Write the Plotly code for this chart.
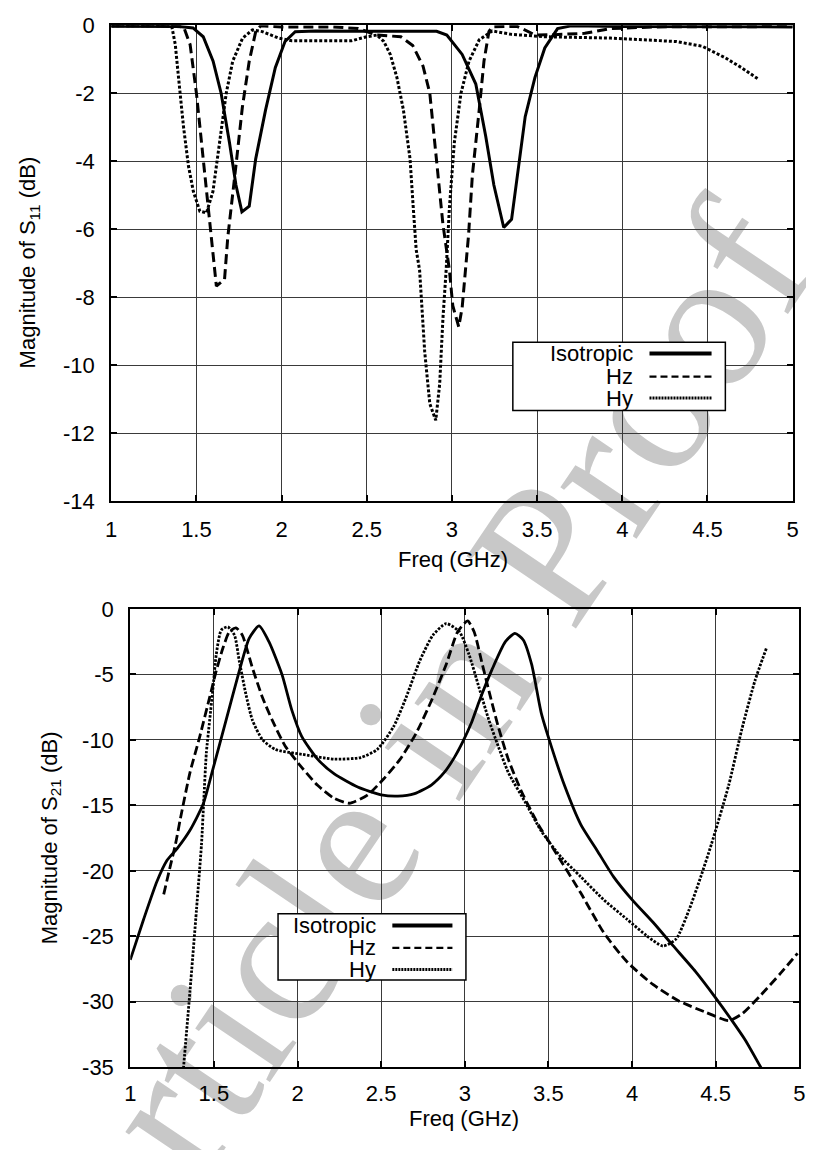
import plotly.graph_objects as go

W, H = 814, 1150
FONT = "Liberation Sans, Arial, Helvetica, sans-serif"

# ---------------- data: S11 (top) ----------------
series_names = ["Isotropic", "Hz", "Hy"]

s11_iso_f = [1.0, 1.2, 1.4, 1.48, 1.54, 1.598, 1.645, 1.694, 1.732, 1.767, 1.81, 1.848, 1.906, 1.963,
             2.02, 2.08, 2.2, 2.5, 2.8, 2.91, 2.97, 3.06, 3.14, 3.198, 3.246, 3.304, 3.35, 3.39, 3.43,
             3.487, 3.545, 3.62, 3.70, 4.0, 4.5, 5.0]
s11_iso_db = [-0.03, -0.03, -0.04, -0.08, -0.34, -1.06, -2.0, -3.45, -4.7, -5.49, -5.32, -3.93, -2.49, -1.25,
              -0.48, -0.19, -0.17, -0.18, -0.17, -0.18, -0.29, -0.86, -1.73, -3.26, -4.7, -5.95, -5.71, -4.22, -2.69,
              -1.54, -0.67, -0.1, -0.02, -0.04, -0.05, -0.05]

s11_hz_f = [1.0, 1.3, 1.425, 1.463, 1.50, 1.54, 1.568, 1.597, 1.617, 1.665, 1.684, 1.732, 1.77, 1.81,
            1.848, 1.877, 2.0, 2.3, 2.45, 2.56, 2.70, 2.77, 2.83, 2.87, 2.908, 2.947, 2.985, 3.005, 3.04,
            3.06, 3.097, 3.12, 3.16, 3.188, 3.217, 3.236, 3.38, 3.45, 3.49, 3.6, 3.78, 3.93, 4.2, 5.0]
s11_hz_db = [-0.02, -0.02, -0.05, -0.57, -2.0, -3.93, -5.37, -6.8, -7.67, -7.48, -6.24, -4.13, -2.4, -1.06,
             -0.19, -0.02, -0.05, -0.05, -0.1, -0.29, -0.34, -0.6, -1.2, -2.0, -3.93, -5.85, -7.2, -8.25, -8.87,
             -8.3, -6.2, -4.41, -2.49, -1.06, -0.19, -0.05, -0.03, -0.2, -0.29, -0.28, -0.24, -0.1, -0.05, -0.04]

s11_hy_f = [1.0, 1.3, 1.356, 1.376, 1.395, 1.424, 1.453, 1.482, 1.52, 1.559, 1.597, 1.636, 1.675, 1.713,
            1.771, 1.829, 1.887, 1.983, 2.06, 2.41, 2.50, 2.56, 2.60, 2.638, 2.677, 2.715, 2.754, 2.773, 2.79,
            2.81, 2.84, 2.87, 2.905, 2.928, 2.947, 2.966, 2.985, 3.014, 3.053, 3.10, 3.16, 3.236, 3.35,
            3.545, 3.93, 4.12, 4.316, 4.47, 4.605, 4.70, 4.797]
s11_hy_db = [-0.02, -0.02, -0.05, -0.57, -1.54, -2.98, -4.13, -4.89, -5.47, -5.52, -4.89, -3.45, -2.0, -1.06,
             -0.38, -0.14, -0.19, -0.38, -0.46, -0.46, -0.34, -0.29, -0.48, -0.86, -1.54, -2.49, -3.93, -5.37, -6.6,
             -7.2, -9.6, -11.13, -11.62, -10.55, -8.63, -7.2, -5.37, -3.45, -2.0, -1.06, -0.43, -0.17, -0.27,
             -0.34, -0.38, -0.43, -0.48, -0.62, -0.96, -1.25, -1.58]

# ---------------- data: S21 (bottom) ----------------
s21_iso_f = [1.0, 1.08, 1.16, 1.22, 1.28, 1.357, 1.436, 1.495, 1.573, 1.652, 1.711, 1.77, 1.829, 1.907,
             1.966, 2.025, 2.12, 2.22, 2.36, 2.5, 2.6, 2.7, 2.8, 2.88, 2.94, 2.99, 3.04, 3.085, 3.164, 3.243,
             3.30, 3.35, 3.40, 3.458, 3.517, 3.596, 3.694, 3.792, 3.89, 4.0, 4.127, 4.244, 4.38, 4.5,
             4.598, 4.676, 4.774]
s21_iso_db = [-26.8, -23.7, -20.8, -19.2, -18.3, -16.9, -14.9, -12.2, -8.5, -4.74, -2.25, -1.3, -2.5, -5.0,
              -7.73, -9.73, -11.47, -12.6, -13.6, -14.2, -14.3, -14.1, -13.45, -12.45, -11.3, -10.1, -8.7,
              -7.1, -4.6, -2.5, -1.87, -2.37, -4.24, -7.98, -10.48, -13.47, -16.47, -18.46, -20.46, -22.2,
              -23.95, -25.7, -27.7, -29.7, -31.44, -32.9, -35.1]

s21_hz_f = [1.2, 1.24, 1.27, 1.3, 1.357, 1.416, 1.475, 1.514, 1.554, 1.593, 1.632, 1.67, 1.73, 1.79,
            1.848, 1.927, 2.025, 2.12, 2.22, 2.31, 2.418, 2.516, 2.614, 2.71, 2.81, 2.889, 2.958, 3.017,
            3.056, 3.105, 3.154, 3.2, 3.26, 3.34, 3.44, 3.537, 3.694, 3.83, 3.97, 4.127, 4.28, 4.44,
            4.578, 4.656, 4.774, 4.89, 4.99]
s21_hz_db = [-21.8, -19.6, -18.0, -16.0, -12.5, -9.73, -6.74, -4.74, -2.99, -1.74, -1.45, -2.0, -4.49, -6.74,
             -8.48, -10.48, -12.1, -13.47, -14.47, -14.84, -14.22, -12.97, -11.47, -9.48, -6.74, -4.24, -1.74,
             -0.92, -1.74, -4.24, -6.74, -8.98, -11.47, -13.97, -16.47, -18.46, -21.7, -24.7, -26.95, -28.7,
             -29.94, -30.8, -31.44, -30.94, -29.44, -27.8, -26.3]

s21_hy_f = [1.318, 1.357, 1.396, 1.426, 1.44, 1.455, 1.475, 1.495, 1.514, 1.544, 1.583, 1.623, 1.652, 1.691,
            1.73, 1.79, 1.868, 2.025, 2.22, 2.378, 2.477, 2.575, 2.65, 2.73, 2.81, 2.889, 2.968, 3.026,
            3.085, 3.144, 3.2, 3.26, 3.36, 3.458, 3.576, 3.694, 3.83, 3.97, 4.087, 4.185, 4.264, 4.342,
            4.41, 4.475, 4.578, 4.656, 4.735, 4.804]
s21_hy_db = [-35.1, -29.2, -22.96, -17.96, -14.5, -10.98, -8.48, -5.99, -3.5, -1.62, -1.37, -2.0, -3.99, -6.49,
             -8.48, -9.98, -10.73, -11.1, -11.47, -11.35, -10.73, -8.98, -6.74, -3.99, -2.0, -1.12, -1.74, -3.5,
             -5.99, -8.48, -10.48, -12.48, -14.72, -16.97, -18.96, -20.46, -22.2, -23.7, -24.95, -25.75, -25.2,
             -22.96, -20.5, -17.96, -13.47, -9.23, -5.49, -2.99]

x_ticks = [1, 1.5, 2, 2.5, 3, 3.5, 4, 4.5, 5]
x_tick_text = ["1", "1.5", "2", "2.5", "3", "3.5", "4", "4.5", "5"]
y11_ticks = [0, -2, -4, -6, -8, -10, -12, -14]
y11_tick_text = ["0", "-2", "-4", "-6", "-8", "-10", "-12", "-14"]
y21_ticks = [0, -5, -10, -15, -20, -25, -30, -35]
y21_tick_text = ["0", "-5", "-10", "-15", "-20", "-25", "-30", "-35"]

# ---------------- helpers (screen pixels -> paper; page body has an 8px margin) ----------------
OFF = 8

def px(x):
    return (x - OFF) / W

def py(y):
    return 1 - (y - OFF) / H

styles_top = [dict(color="black", width=3),
              dict(color="black", width=3, dash="10px,5px"),
              dict(color="black", width=3, dash="3px,2px")]
styles_bot = [dict(color="black", width=2.8),
              dict(color="black", width=2.8, dash="9px,4px"),
              dict(color="black", width=2.8, dash="2.5px,1.5px")]

fig = go.Figure()
for (f, d), st in zip([(s11_iso_f, s11_iso_db), (s11_hz_f, s11_hz_db), (s11_hy_f, s11_hy_db)], styles_top):
    fig.add_trace(go.Scatter(x=f, y=d, mode="lines", line=st, xaxis="x", yaxis="y", hoverinfo="skip"))
for (f, d), st in zip([(s21_iso_f, s21_iso_db), (s21_hz_f, s21_hz_db), (s21_hy_f, s21_hy_db)], styles_bot):
    fig.add_trace(go.Scatter(x=f, y=d, mode="lines", line=dict(st, shape="spline", smoothing=0.6),
                             xaxis="x2", yaxis="y2", hoverinfo="skip"))

FS = 22
axis_common = dict(showgrid=True, gridcolor="#3a3a3a", gridwidth=1, showline=True, linecolor="black",
                   linewidth=2, mirror="ticks", ticks="inside", ticklen=6, tickcolor="black", tickwidth=1.5,
                   zeroline=False, tickfont=dict(family=FONT, size=FS, color="black"))

fig.update_layout(
    width=W, height=H, margin=dict(l=0, r=0, t=0, b=0),
    paper_bgcolor="white", plot_bgcolor="rgba(0,0,0,0)", showlegend=False,
    xaxis=dict(axis_common, domain=[px(106.7), px(798.3)], range=[1, 5], tickvals=x_ticks,
               ticktext=x_tick_text, anchor="y", ticklabelstandoff=7),
    yaxis=dict(axis_common, domain=[py(500), py(13.3)], range=[-14, 0], tickvals=y11_ticks,
               ticktext=y11_tick_text, anchor="x", ticklabelstandoff=10),
    xaxis2=dict(axis_common, domain=[px(126), px(805)], range=[1, 5], tickvals=x_ticks,
                ticktext=x_tick_text, anchor="y2", ticklabelstandoff=5),
    yaxis2=dict(axis_common, domain=[py(1078.5), py(610)], range=[-35, 0], tickvals=y21_ticks,
                ticktext=y21_tick_text, anchor="x2", ticklabelstandoff=10),
)

title_font = dict(family=FONT, size=FS, color="black")
annotations = [
    dict(text="Magnitude of S<sub>11</sub> (dB)", x=px(23), y=py(256), textangle=-90),
    dict(text="Magnitude of S<sub>21</sub> (dB)", x=px(45), y=py(844), textangle=-90),
    dict(text="Freq (GHz)", x=px(454), y=py(559)),
    dict(text="Freq (GHz)", x=px(465), y=py(1131)),
]
for a in annotations:
    a.update(xref="paper", yref="paper", showarrow=False, font=title_font, xanchor="center", yanchor="middle")

shapes = []
# watermark
shapes.append(dict(type="rect", xref="paper", yref="paper", x0=px(385), x1=px(405), y0=py(750), y1=py(730),
                   line=dict(width=0), fillcolor="rgba(0,0,0,0)", layer="below",
                   label=dict(text="Article in Proof", textangle=-56, textposition="middle center",
                              font=dict(family="Liberation Serif, Times New Roman, serif", size=200,
                                        color="#c8c8c8"))))

# custom legends (text left, sample right)
legend_specs = [
    dict(box=(514.3, 337.3, 730, 407.3), text_x=638, rows=[349, 372.5, 394.5], line_x=(653, 716),
         samples=[dict(width=4), dict(width=2.2, dash="7px,4px"), dict(width=3, dash="2px,1px")]),
    dict(box=(276, 921.7, 466.7, 989.3), text_x=377, rows=[933.5, 956.5, 978.5], line_x=(392, 453),
         samples=[dict(width=4), dict(width=2.2, dash="7px,4px"), dict(width=3, dash="2px,1px")]),
]
for lg in legend_specs:
    x0, y0, x1, y1 = lg["box"]
    shapes.append(dict(type="rect", xref="paper", yref="paper", x0=px(x0), x1=px(x1), y0=py(y1), y1=py(y0),
                       line=dict(color="black", width=1.5), fillcolor="white", layer="above"))
    for name, ry, smp in zip(series_names, lg["rows"], lg["samples"]):
        annotations.append(dict(text=name, x=px(lg["text_x"]), y=py(ry), xref="paper", yref="paper",
                                showarrow=False, font=title_font, xanchor="right", yanchor="middle"))
        shapes.append(dict(type="line", xref="paper", yref="paper", x0=px(lg["line_x"][0]),
                           x1=px(lg["line_x"][1]), y0=py(ry), y1=py(ry),
                           line=dict(color="black", **smp), layer="above"))

fig.update_layout(annotations=annotations, shapes=shapes)
fig.write_html("out.html")
